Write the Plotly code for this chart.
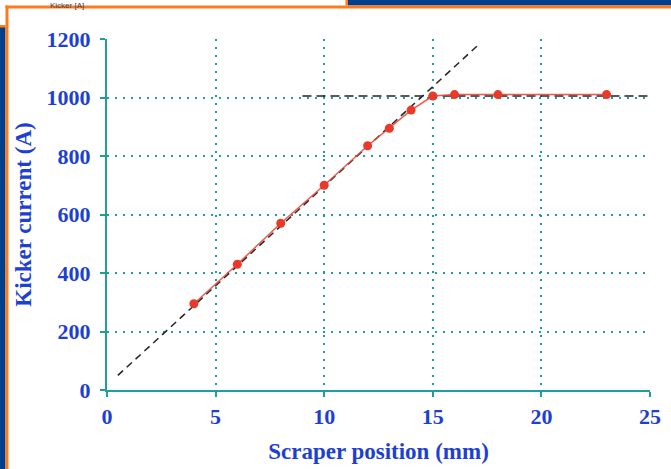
import plotly.graph_objects as go

# Measured kicker current versus scraper position
scraper_mm = [4, 6, 8, 10, 12, 13, 14, 15, 16, 18, 23]
kicker_a = [295, 430, 570, 700, 835, 895, 957, 1005, 1010, 1010, 1010]

# Linear-regime fit line and saturation level (endpoints)
fit_x = [0.5, 17.1]
fit_y = [50, 1180]
sat_x = [9, 25]
sat_y = [1005, 1005]

x_ticks = [0, 5, 10, 15, 20, 25]
y_ticks = [0, 200, 400, 600, 800, 1000, 1200]

TEAL = "#1f9e9a"
BLUE = "#1d3fd2"
ORANGE = "#ff7a1a"
NAVY = "#00408a"
FONT = "Liberation Serif"

fig = go.Figure()

fig.add_trace(go.Scatter(
    x=fit_x, y=fit_y, mode="lines",
    line=dict(color="#222222", width=1.5, dash="7px,5px"),
    hoverinfo="skip", showlegend=False))
fig.add_trace(go.Scatter(
    x=sat_x, y=sat_y, mode="lines",
    line=dict(color="#222222", width=1.5, dash="9px,5px"),
    hoverinfo="skip", showlegend=False))
fig.add_trace(go.Scatter(
    x=scraper_mm, y=kicker_a, mode="lines+markers",
    line=dict(color="rgba(240,70,55,0.9)", width=1.5),
    marker=dict(color="#e8392a", size=9),
    showlegend=False))

axis_common = dict(
    showline=True, linecolor=TEAL, linewidth=2,
    showgrid=True, gridcolor=TEAL, gridwidth=1.7, griddash="2px,6px",
    zeroline=False, ticks="outside", tickcolor=TEAL, ticklen=5, tickwidth=2,
    tickfont=dict(family=FONT, size=22, color=BLUE, weight="bold"),
    automargin=False,
)

fig.update_xaxes(
    range=[0, 25], tickvals=x_ticks, ticklabelstandoff=1, **axis_common,
    title=dict(text="<b>Scraper position (mm)</b>",
               font=dict(family=FONT, size=23, color=BLUE), standoff=14),
)
fig.update_yaxes(
    range=[0, 1200], tickvals=y_ticks, ticklabelstandoff=5, **axis_common,
    title=dict(text="<b>Kicker current (A)</b>",
               font=dict(family=FONT, size=23, color=BLUE), standoff=9),
)


def px_x(p):
    return (p - 107) / 543


def px_y(p):
    return (390 - p) / 351


# Surrounding slide frame: navy strips and orange borders (pixel boxes)
frame = [
    (0, 27, 5.5, 469, NAVY),
    (348, 0, 671, 5.5, NAVY),
    (5.5, 5.5, 671, 8.5, ORANGE),
    (5.5, 5.5, 8.5, 469, ORANGE),
    (0, 25, 5.5, 27.5, ORANGE),
    (345.5, 0, 348, 5.5, ORANGE),
]
shapes = []
for x0, y0, x1, y1, c in frame:
    shapes.append(dict(type="rect", xref="paper", yref="paper",
                       x0=px_x(x0), x1=px_x(x1), y0=px_y(y1), y1=px_y(y0),
                       fillcolor=c, line_width=0, layer="above"))

fig.update_layout(
    width=671, height=469,
    margin=dict(l=107, r=21, t=39, b=79),
    paper_bgcolor="white", plot_bgcolor="white",
    shapes=shapes,
    annotations=[dict(text="Kicker [A]", xref="paper", yref="paper",
                      x=px_x(48), y=px_y(-1), showarrow=False,
                      font=dict(family="Liberation Sans", size=8, color="#444"))],
)

fig.write_html("out.html")
